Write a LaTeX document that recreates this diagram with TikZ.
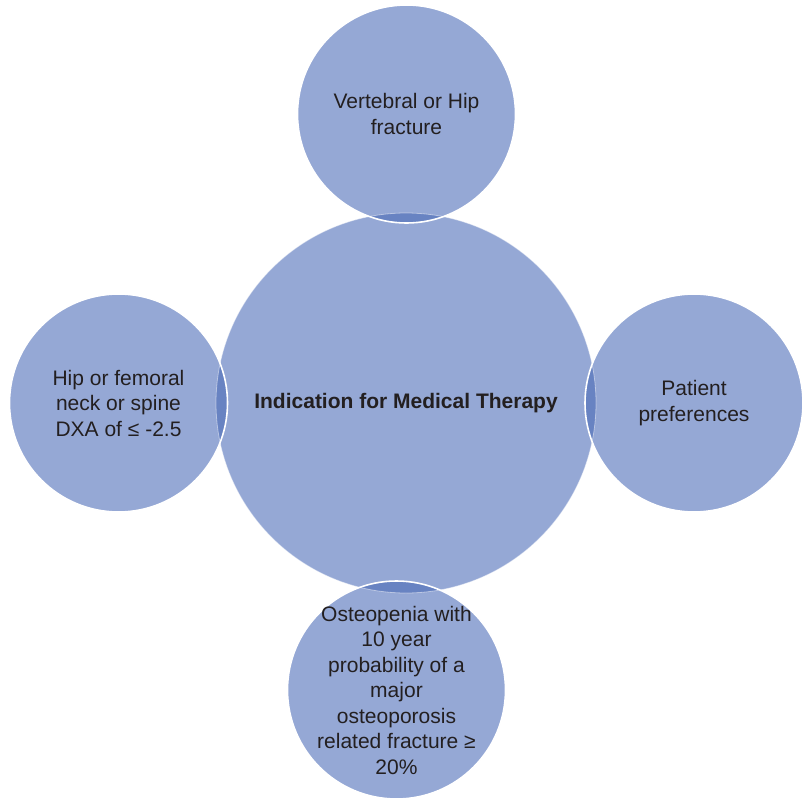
\documentclass[tikz,border=0pt]{standalone}
\usepackage{fontspec}
\setmainfont{Liberation Sans}
\usetikzlibrary{positioning}
\definecolor{petalblue}{RGB}{149,168,213}
\definecolor{lensblue}{RGB}{104,131,194}
\definecolor{inkgray}{RGB}{35,31,32}

\begin{document}
\begin{tikzpicture}[x=1pt, y=-1pt,
    hub/.style={circle, fill=petalblue, minimum size=380pt, inner sep=0pt, align=center, text=inkgray, font=\fontsize{21}{25}\selectfont\bfseries},
    petal/.style={circle, fill=petalblue, minimum size=218pt, inner sep=0pt},
    petaltext/.style={align=center, inner sep=0pt, text=inkgray, font=\fontsize{21}{25.5}\selectfont}]
    \useasboundingbox (0,0) rectangle (803,800);
    \node[hub] (hub) at (406,403) {Indication for Medical Therapy};
    \node[petal] (top) at (406.5,114) {};
    \node[petal] (left) at (118.5,403) {};
    \node[petal] (right) at (694,403) {};
    \node[petal] (bottom) at (396.5,690) {};
    % darker lenses where the petals meet the hub
    \begin{scope}
      \clip (hub.center) circle[radius=190];
      \foreach \p in {top,left,right,bottom}
        \fill[lensblue] (\p.center) circle[radius=109];
    \end{scope}
    \draw[white, opacity=0.45, line width=0.8pt] (hub.center) circle[radius=190];
    \foreach \p in {top,left,right,bottom}
      \draw[white, line width=1.6pt] (\p.center) circle[radius=109];
    % petal texts
    \node[petaltext] (top-text) at (top) {Vertebral or Hip\\fracture};
    \node[petaltext] (left-text) at (left) {Hip or femoral\\neck or spine\\DXA of ≤ -2.5};
    \node[petaltext] (right-text) at (right) {Patient\\preferences};
    \node[petaltext] (bottom-text) at (bottom) {Osteopenia with\\10 year\\probability of a\\major\\osteoporosis\\related fracture ≥\\20\%};
  \end{tikzpicture}
\end{document}
